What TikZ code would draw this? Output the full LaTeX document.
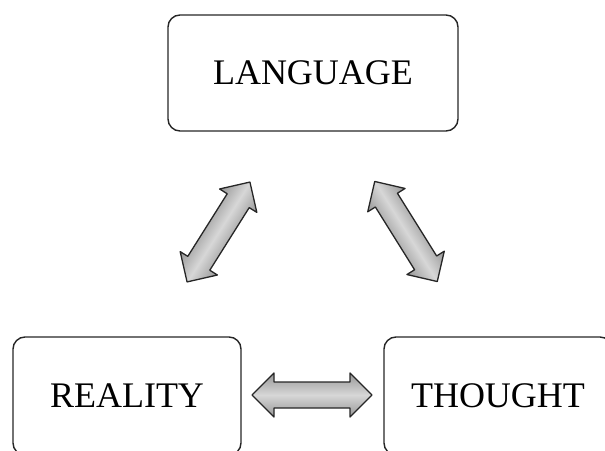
\documentclass[tikz,border=0pt]{standalone}
\usepackage{fontspec}
\setmainfont{Liberation Serif}
\begin{document}
\begin{tikzpicture}[x=1pt,y=1pt,
  box/.style={draw=black!85, line width=1.4pt, rounded corners=12pt, inner sep=0pt,
    font=\fontsize{36}{40}\selectfont},
  arr/.style={draw=black!85, line width=1.3pt, line join=round,
    top color=arredge, bottom color=arredge, middle color=arrmid}]
\definecolor{arredge}{RGB}{150,150,150}
\definecolor{arrmid}{RGB}{215,215,215}
\useasboundingbox (0,0) rectangle (605,450);
\clip (0,0) rectangle (605,450);
\node[box, minimum width=290pt, minimum height=116pt] (lang) at (313,377) {LANGUAGE};
\node[box, minimum width=228pt, minimum height=118pt] (real) at (127,54) {REALITY};
\node[box, minimum width=228pt, minimum height=118pt] (thou) at (498,54) {THOUGHT};
\begin{scope}[transform canvas={shift={(312pt,55pt)}}]
  \path[arr] (-60,0) -- (-38,22) -- (-38,13) -- (38,13) -- (38,22) -- (60,0)
    -- (38,-22) -- (38,-13) -- (-38,-13) -- (-38,-22) -- cycle;
\end{scope}
\begin{scope}[transform canvas={shift={(218.5pt,218pt)},rotate=57.8}]
  \path[arr] (-59,0) -- (-37,22) -- (-37,13) -- (37,13) -- (37,22) -- (59,0)
    -- (37,-22) -- (37,-13) -- (-37,-13) -- (-37,-22) -- cycle;
\end{scope}
\begin{scope}[transform canvas={shift={(406pt,218.5pt)},rotate=-58}]
  \path[arr] (-59,0) -- (-37,22) -- (-37,13) -- (37,13) -- (37,22) -- (59,0)
    -- (37,-22) -- (37,-13) -- (-37,-13) -- (-37,-22) -- cycle;
\end{scope}
\end{tikzpicture}
\end{document}
